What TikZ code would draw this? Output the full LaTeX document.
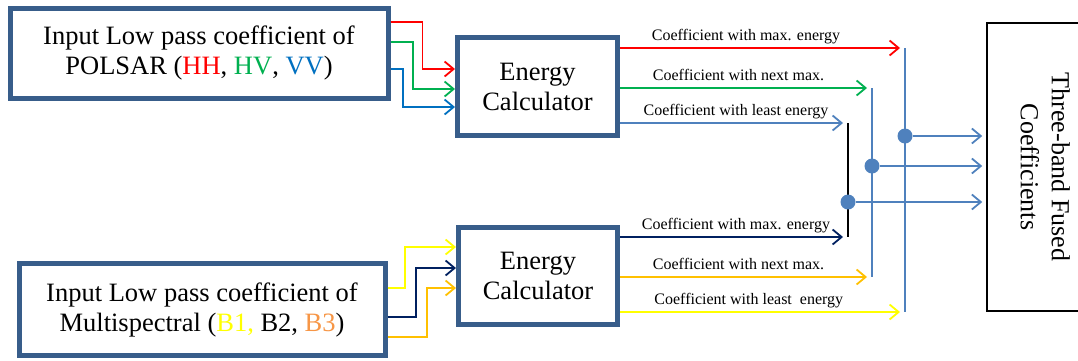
\documentclass[tikz,border=0pt]{standalone}
\usepackage{fontspec}
\setmainfont{Liberation Serif}
\usepackage{graphicx}
\usetikzlibrary{arrows.meta}
\definecolor{boxblue}{HTML}{385D8A}
\definecolor{pgreen}{HTML}{00B050}
\definecolor{pblue}{HTML}{0070C0}
\definecolor{lblue}{HTML}{4F81BD}
\definecolor{navy}{HTML}{002060}
\definecolor{gold}{HTML}{FFC000}
\definecolor{lorange}{HTML}{F79646}
\definecolor{pyellow}{HTML}{FFFF00}

\begin{document}
\begin{tikzpicture}[x=1pt,y=-1pt,
    block/.style={rectangle,draw=boxblue,line width=5pt,fill=white,align=center,
                  font=\fontsize{26.5}{30}\selectfont},
    flow/.style={line width=1.8pt,-{Straight Barb[length=9pt,width=15pt]}},
    lbl/.style={anchor=base,yshift=8pt,text=black,inner sep=0pt,
                font=\fontsize{16}{19}\selectfont},
    bar/.style={line width=1.8pt},
    dot/.style={circle,fill=lblue,inner sep=0pt,minimum size=15pt}
]
\useasboundingbox (0,0) rectangle (1078,360);

\node[block,minimum width=378pt,minimum height=90pt] (polsar) at (199,53)
    {Input Low pass coefficient of\\POLSAR (\textcolor{red}{HH}, \textcolor{pgreen}{HV}, \textcolor{pblue}{VV})};
\node[block,minimum width=366pt,minimum height=92pt] (msi) at (202,309.5)
    {Input Low pass coefficient of\\Multispectral (\textcolor{pyellow}{B1,} B2, \textcolor{lorange}{B3})};
\node[block,minimum width=160pt,minimum height=98pt] (ecA) at (537.5,86.5) {Energy\\Calculator};
\node[block,minimum width=159pt,minimum height=97pt] (ecB) at (538,276) {Energy\\Calculator};
\node[draw,line width=1.5pt,minimum width=111pt,minimum height=288pt] (fused) at (1042.5,167)
    {\rotatebox{-90}{\fontsize{26}{31}\selectfont\begin{tabular}{@{}c@{}}Three-band Fused\\Coefficients\end{tabular}}};

\draw[flow,red]    ([yshift=31pt]polsar.east)  -- ++(32,0)   |- ([yshift=17.5pt]ecA.west);
\draw[flow,pgreen] ([yshift=11pt]polsar.east)  -- ++(22.5,0) |- ([yshift=-2.5pt]ecA.west);
\draw[flow,pblue]  ([yshift=-16pt]polsar.east) -- ++(12.5,0) |- ([yshift=-20.5pt]ecA.west);

\draw[flow,pyellow] ([yshift=21.5pt]msi.east)  -- ++(17.5,0) |- ([yshift=29pt]ecB.west);
\draw[flow,navy]    ([yshift=-7.5pt]msi.east)  -- ++(28.5,0) |- ([yshift=8pt]ecB.west);
\draw[flow,gold]    ([yshift=-27.5pt]msi.east) -- ++(39.5,0) |- ([yshift=-12pt]ecB.west);

\coordinate (hiA) at (848,123); \coordinate (loA) at (848,237);
\coordinate (hiB) at (872,88);  \coordinate (loB) at (872,277);
\coordinate (hiC) at (905,48);  \coordinate (loC) at (905,312);

\draw[flow,red]     (ecA.east |- hiC) -- ([xshift=-5pt]hiC) node[lbl,pos=.45] {Coefficient with max. energy};
\draw[flow,pgreen]  (ecA.east |- hiB) -- ([xshift=-5pt]hiB) node[lbl,pos=.48] {Coefficient with next max.};
\draw[flow,lblue]   (ecA.east |- hiA) -- ([xshift=-5pt]hiA) node[lbl,pos=.52] {Coefficient with least energy};
\draw[flow,navy]    (ecB.east |- loA) -- ([xshift=-5pt]loA) node[lbl,pos=.52] {Coefficient with max. energy};
\draw[flow,gold]    (ecB.east |- loB) -- ([xshift=-5pt]loB) node[lbl,pos=.48] {Coefficient with next max.};
\draw[flow,pyellow] (ecB.east |- loC) -- ([xshift=-5pt]loC) node[lbl,pos=.46] {Coefficient with least\ \ energy};

\draw[line width=1.4pt,black] (hiA) -- (loA);
\draw[bar,lblue] (hiB) -- (loB);
\draw[bar,lblue] (hiC) -- (loC);

\node[dot] (dA) at (848,202) {};
\node[dot] (dB) at (872,166) {};
\node[dot] (dC) at (905,136) {};

\draw[flow,lblue,shorten >=4pt] (dC) -- (dC -| fused.west);
\draw[flow,lblue,shorten >=4pt] (dB) -- (dB -| fused.west);
\draw[flow,lblue,shorten >=4pt] (dA) -- (dA -| fused.west);
\end{tikzpicture}
\end{document}
